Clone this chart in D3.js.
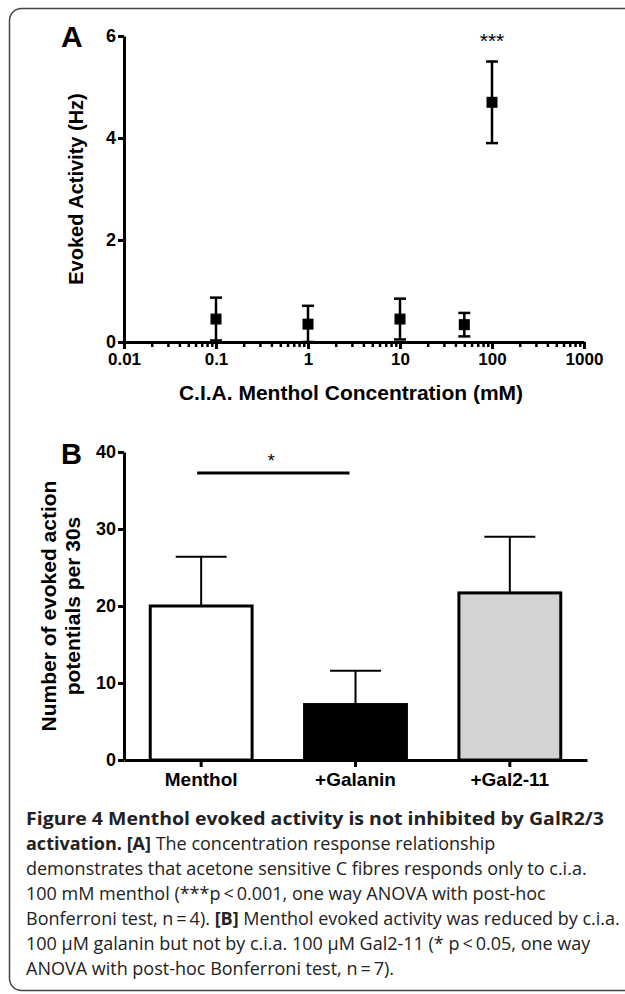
<!DOCTYPE html>
<html>
<head>
<meta charset="utf-8">
<script src="https://cdn.jsdelivr.net/npm/d3@7"></script>
<style>
    body { margin: 0; background: #fff; }
    svg { display: block; }
</style>
</head>
<body>
<div id="chart"></div>
<script>
    // panel A: concentration response
    const concentrations = [0.1, 1, 10, 50, 100];
    const evokedMean = [0.45, 0.35, 0.45, 0.34, 4.7];
    const evokedSem = [0.42, 0.36, 0.4, 0.23, 0.8];
    const xTicksA = [0.01, 0.1, 1, 10, 100, 1000];
    const yTicksA = [0, 2, 4, 6];

    // panel B: bars
    const groups = ["Menthol", "+Galanin", "+Gal2-11"];
    const spikes = [20, 7.2, 21.7];
    const spikesSem = [6.4, 4.4, 7.3];
    const barFills = ["#ffffff", "#000000", "#d3d3d3"];
    const yTicksB = [0, 10, 20, 30, 40];

    const captionLines = [
        [["Figure 4 Menthol evoked activity is not inhibited by GalR2/3", true]],
        [["activation. [A]", true], [" The concentration response relationship", false]],
        [["demonstrates that acetone sensitive C fibres responds only to c.i.a.", false]],
        [["100 mM menthol (***p\u2009<\u20090.001, one way ANOVA with post-hoc", false]],
        [["Bonferroni test, n\u2009=\u20094). ", false], ["[B]", true], [" Menthol evoked activity was reduced by c.i.a.", false]],
        [["100 \u00b5M galanin but not by c.i.a. 100 \u00b5M Gal2-11 (* p\u2009<\u20090.05, one way", false]],
        [["ANOVA with post-hoc Bonferroni test, n\u2009=\u20097).", false]]
    ];

    const width = 625, height = 994;
    const font = "'Liberation Sans', Arial, sans-serif";

    const svg = d3.select("#chart").append("svg")
        .attr("width", width)
        .attr("height", height)
        .attr("viewBox", [0, 0, width, height]);

    // frame
    svg.append("rect")
        .attr("x", 9.5).attr("y", 8.5)
        .attr("width", 660).attr("height", 982)
        .attr("rx", 12)
        .attr("fill", "none")
        .attr("stroke", "#444")
        .attr("stroke-width", 1.5);

    const styleTicks = (g, size) => g.selectAll("text")
        .attr("font-family", font).attr("font-size", size).attr("font-weight", "bold").attr("fill", "#000");

    // ---------- panel A ----------
    const xA = d3.scaleLog().domain([0.01, 1000]).range([124, 584]);
    const yA = d3.scaleLinear().domain([0, 6]).range([342, 36]);

    const minorTicks = [];
    for (let d = 0.01; d < 1000; d *= 10) {
        for (let k = 2; k <= 9; k++) minorTicks.push(+(d * k).toPrecision(3));
    }

    const gA = svg.append("g");

    // minor ticks
    gA.append("g")
        .attr("transform", `translate(0,${yA(0)})`)
        .call(d3.axisBottom(xA).tickValues(minorTicks).tickSize(5).tickFormat(""))
        .call(g => g.select(".domain").remove())
        .call(g => g.selectAll("line").attr("stroke-width", 2.5));

    gA.append("g")
        .attr("transform", `translate(0,${yA(0)})`)
        .call(d3.axisBottom(xA).tickValues(xTicksA).tickSize(7).tickSizeOuter(0).tickPadding(4)
            .tickFormat(d => d3.format("~g")(d)))
        .call(g => g.select(".domain").attr("stroke-width", 3))
        .call(g => g.selectAll("line").attr("stroke-width", 3))
        .call(g => styleTicks(g, 17));

    gA.append("g")
        .attr("transform", `translate(${xA(0.01)},0)`)
        .call(d3.axisLeft(yA).tickValues(yTicksA).tickSize(6).tickSizeOuter(0).tickPadding(2)
            .tickFormat(d3.format("d")))
        .call(g => g.select(".domain").attr("stroke-width", 3))
        .call(g => g.selectAll("line").attr("stroke-width", 3))
        .call(g => styleTicks(g, 18));

    const pts = concentrations.map((c, i) => ({c, m: evokedMean[i], s: evokedSem[i]}));

    const err = gA.append("g").attr("stroke", "#000").attr("stroke-width", 2.5);
    err.selectAll(".v").data(pts).join("line")
        .attr("x1", d => xA(d.c)).attr("x2", d => xA(d.c))
        .attr("y1", d => yA(Math.max(0, d.m - d.s))).attr("y2", d => yA(d.m + d.s));
    err.selectAll(".top").data(pts).join("line")
        .attr("x1", d => xA(d.c) - 6).attr("x2", d => xA(d.c) + 6)
        .attr("y1", d => yA(d.m + d.s)).attr("y2", d => yA(d.m + d.s));
    err.selectAll(".bot").data(pts).join("line")
        .attr("x1", d => xA(d.c) - 6).attr("x2", d => xA(d.c) + 6)
        .attr("y1", d => yA(Math.max(0, d.m - d.s))).attr("y2", d => yA(Math.max(0, d.m - d.s)));

    gA.append("g").selectAll("rect").data(pts).join("rect")
        .attr("x", d => xA(d.c) - 5.5).attr("y", d => yA(d.m) - 5.5)
        .attr("width", 11).attr("height", 11)
        .attr("fill", "#000");

    gA.append("text")
        .attr("x", xA(100)).attr("y", 48)
        .attr("text-anchor", "middle")
        .attr("font-family", font).attr("font-size", 21)
        .text("***");

    gA.append("text")
        .attr("transform", `translate(83,${(yA(0) + yA(6)) / 2}) rotate(-90)`)
        .attr("text-anchor", "middle")
        .attr("font-family", font).attr("font-size", 20).attr("font-weight", "bold")
        .text("Evoked Activity (Hz)");

    gA.append("text")
        .attr("x", (xA(0.01) + xA(1000)) / 2 - 3).attr("y", 400)
        .attr("text-anchor", "middle")
        .attr("font-family", font).attr("font-size", 21).attr("font-weight", "bold")
        .text("C.I.A. Menthol Concentration (mM)");

    gA.append("text")
        .attr("x", 61).attr("y", 47)
        .attr("font-family", font).attr("font-size", 30).attr("font-weight", "bold")
        .text("A");

    // ---------- panel B ----------
    const xB = d3.scaleBand().domain(groups).range([124, 587]).paddingInner(0.34).paddingOuter(0.17);
    const yB = d3.scaleLinear().domain([0, 40]).range([760, 452]);

    const gB = svg.append("g");

    const bars = groups.map((g, i) => ({g, v: spikes[i], s: spikesSem[i], f: barFills[i]}));

    // error bars (upward only)
    const errB = gB.append("g").attr("stroke", "#000").attr("stroke-width", 2);
    errB.selectAll(".v").data(bars).join("line")
        .attr("x1", d => xB(d.g) + xB.bandwidth() / 2).attr("x2", d => xB(d.g) + xB.bandwidth() / 2)
        .attr("y1", d => yB(d.v)).attr("y2", d => yB(d.v + d.s));
    errB.selectAll(".cap").data(bars).join("line")
        .attr("x1", d => xB(d.g) + xB.bandwidth() / 4).attr("x2", d => xB(d.g) + xB.bandwidth() * 3 / 4)
        .attr("y1", d => yB(d.v + d.s)).attr("y2", d => yB(d.v + d.s));

    gB.append("g").selectAll("rect").data(bars).join("rect")
        .attr("x", d => xB(d.g)).attr("y", d => yB(d.v))
        .attr("width", xB.bandwidth()).attr("height", d => yB(0) - yB(d.v))
        .attr("fill", d => d.f)
        .attr("stroke", "#000").attr("stroke-width", 3);

    gB.append("g")
        .attr("transform", `translate(0,${yB(0)})`)
        .call(d3.axisBottom(xB).tickSize(7).tickSizeOuter(0).tickPadding(6))
        .call(g => g.select(".domain").attr("stroke-width", 3))
        .call(g => g.selectAll("line").attr("stroke-width", 3))
        .call(g => styleTicks(g, 19));

    gB.append("g")
        .attr("transform", `translate(124,0)`)
        .call(d3.axisLeft(yB).tickValues(yTicksB).tickSize(6).tickSizeOuter(0).tickPadding(2)
            .tickFormat(d3.format("d")))
        .call(g => g.select(".domain").attr("stroke-width", 3))
        .call(g => g.selectAll("line").attr("stroke-width", 3))
        .call(g => styleTicks(g, 18));

    // significance line
    const cx = g => xB(g) + xB.bandwidth() / 2;
    gB.append("line")
        .attr("x1", cx("Menthol") - 4).attr("x2", cx("+Galanin") - 6)
        .attr("y1", 473).attr("y2", 473)
        .attr("stroke", "#000").attr("stroke-width", 3);
    gB.append("text")
        .attr("x", (cx("Menthol") + cx("+Galanin")) / 2 - 7).attr("y", 467)
        .attr("text-anchor", "middle")
        .attr("font-family", font).attr("font-size", 18)
        .text("*");

    const yTitle = gB.append("text")
        .attr("transform", `translate(0,${(yB(0) + yB(40)) / 2}) rotate(-90)`)
        .attr("text-anchor", "middle")
        .attr("font-family", font).attr("font-size", 21).attr("font-weight", "bold");
    yTitle.append("tspan").attr("x", 0).attr("y", 56).text("Number of evoked action");
    yTitle.append("tspan").attr("x", 0).attr("y", 80).text("potentials per 30s");

    gB.append("text")
        .attr("x", 61).attr("y", 464)
        .attr("font-family", font).attr("font-size", 29).attr("font-weight", "bold")
        .text("B");

    // ---------- caption ----------
    const cap = svg.append("g")
        .attr("font-family", "'Open Sans', sans-serif")
        .attr("font-size", 18)
        .attr("fill", "#222");
    captionLines.forEach((parts, i) => {
        const t = cap.append("text").attr("x", 26).attr("y", 825 + i * 25);
        if (i === 0) t.attr("textLength", 578).attr("lengthAdjust", "spacingAndGlyphs");
        parts.forEach(([s, b]) => {
            t.append("tspan").attr("font-weight", b ? "bold" : "normal").text(s);
        });
    });
</script>
</body>
</html>
